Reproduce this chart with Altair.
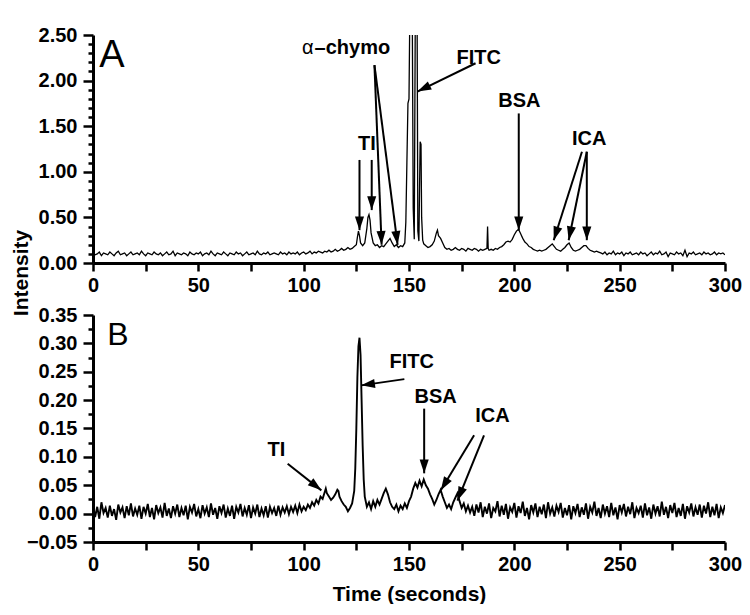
import math
import altair as alt
import pandas as pd

# ---------------- data ----------------
# Panel A trace
top_early_t = list(range(0, 120))
top_early_v = [
    0.11, 0.09, 0.10, 0.12, 0.08, 0.11, 0.10, 0.09, 0.12, 0.10,
    0.08, 0.11, 0.13, 0.09, 0.10, 0.11, 0.08, 0.10, 0.12, 0.09,
    0.10, 0.11, 0.09, 0.13, 0.10, 0.08, 0.11, 0.10, 0.09, 0.12,
    0.10, 0.09, 0.11, 0.08, 0.10, 0.12, 0.09, 0.10, 0.13, 0.08,
    0.11, 0.10, 0.09, 0.11, 0.10, 0.08, 0.12, 0.10, 0.09, 0.11,
    0.10, 0.12, 0.08, 0.10, 0.11, 0.09, 0.13, 0.10, 0.08, 0.11,
    0.10, 0.09, 0.12, 0.10, 0.08, 0.11, 0.10, 0.09, 0.12, 0.10,
    0.11, 0.08, 0.10, 0.12, 0.09, 0.10, 0.11, 0.09, 0.13, 0.10,
    0.09, 0.11, 0.10, 0.12, 0.09, 0.10, 0.11, 0.10, 0.09, 0.12,
    0.10, 0.11, 0.09, 0.12, 0.10, 0.11, 0.10, 0.12, 0.09, 0.11,
    0.12, 0.10, 0.11, 0.13, 0.10, 0.12, 0.11, 0.13, 0.12, 0.11,
    0.13, 0.12, 0.14, 0.12, 0.13, 0.15, 0.13, 0.14, 0.16, 0.14,
]
top_mid_t = [
    120, 121, 122, 123, 124, 125, 125.5, 126, 126.5, 127,
    128, 129, 130, 130.5, 131, 131.5, 132, 133, 134, 135,
    136, 137, 138, 139, 140, 141, 142, 143, 144, 145,
    146, 147, 148, 148.5, 149, 149.5, 150, 150.5, 151, 151.5,
    152, 152.5, 153, 153.3, 153.8, 154.2, 154.7, 155, 155.3, 155.7,
    156, 156.5, 157, 158, 159, 160, 161, 162, 163, 163.5,
    164, 165, 166, 167, 168, 169, 170, 171, 172, 173,
    174, 175, 176, 177, 178, 179, 180, 181, 182, 183,
    184, 185, 186, 187, 187.3, 187.6, 188, 189, 190, 191,
    192, 193, 194, 195, 196, 197, 198, 199, 200, 201,
    202, 203, 204, 205, 206, 207, 208, 209, 210, 211,
    212, 213, 214, 215, 216, 217, 218, 219, 220, 221,
    222, 223, 224, 225, 226, 227, 228, 229, 230, 231,
    232, 233, 234, 235, 236, 237, 238, 239, 240,
]
top_mid_v = [
    0.15, 0.17, 0.15, 0.16, 0.18, 0.20, 0.28, 0.35, 0.30, 0.22,
    0.19, 0.22, 0.38, 0.50, 0.53, 0.47, 0.33, 0.22, 0.19, 0.20,
    0.17, 0.19, 0.18, 0.21, 0.24, 0.27, 0.22, 0.18, 0.20, 0.17,
    0.19, 0.18, 0.22, 0.45, 1.10, 1.75, 1.80, 3.00, 3.50, 3.00,
    0.60, 0.26, 2.80, 3.50, 3.00, 0.35, 0.24, 0.80, 1.33, 1.30,
    0.50, 0.25, 0.21, 0.19, 0.17, 0.18, 0.20, 0.24, 0.33, 0.36,
    0.30, 0.27, 0.22, 0.17, 0.15, 0.16, 0.14, 0.15, 0.17, 0.15,
    0.14, 0.16, 0.15, 0.13, 0.16, 0.15, 0.14, 0.16, 0.15, 0.13,
    0.15, 0.14, 0.15, 0.16, 0.40, 0.16, 0.14, 0.15, 0.14, 0.16,
    0.15, 0.17, 0.18, 0.20, 0.23, 0.24, 0.23, 0.26, 0.31, 0.35,
    0.37, 0.32, 0.27, 0.23, 0.21, 0.18, 0.17, 0.15, 0.14, 0.13,
    0.14, 0.13, 0.14, 0.15, 0.17, 0.19, 0.21, 0.18, 0.15, 0.14,
    0.13, 0.15, 0.17, 0.20, 0.22, 0.17, 0.14, 0.13, 0.14, 0.15,
    0.17, 0.19, 0.19, 0.16, 0.14, 0.13, 0.12, 0.13, 0.12,
]
top_late_t = list(range(241, 301))
top_late_v = [
    0.11, 0.10, 0.12, 0.09, 0.11, 0.10, 0.13, 0.09, 0.11, 0.10,
    0.12, 0.08, 0.11, 0.10, 0.12, 0.09, 0.10, 0.11, 0.09, 0.12,
    0.10, 0.11, 0.08, 0.10, 0.12, 0.09, 0.11, 0.10, 0.13, 0.09,
    0.10, 0.12, 0.07, 0.11, 0.10, 0.09, 0.12, 0.10, 0.11, 0.08,
    0.14, 0.07, 0.11, 0.10, 0.12, 0.09, 0.10, 0.11, 0.09, 0.12,
    0.10, 0.11, 0.09, 0.10, 0.12, 0.09, 0.11, 0.10, 0.11, 0.09,
]

# Panel B trace
bot_early_t = list(range(0, 100))
bot_early_v = [
    0.015, -0.006, 0.012, -0.009, 0.020, 0.001, 0.010, -0.007, 0.014, -0.004,
    0.008, -0.011, 0.016, 0.002, 0.011, -0.008, 0.013, -0.003, 0.018, -0.005,
    0.009, -0.002, 0.014, -0.009, 0.012, 0.000, 0.017, -0.006, 0.010, -0.010,
    0.015, 0.001, 0.011, -0.007, 0.019, -0.004, 0.009, -0.008, 0.013, 0.000,
    0.016, -0.006, 0.010, -0.003, 0.014, -0.010, 0.012, 0.002, 0.017, -0.005,
    0.008, -0.008, 0.015, 0.000, 0.011, -0.006, 0.018, -0.002, 0.010, -0.009,
    0.013, 0.001, 0.016, -0.007, 0.009, -0.004, 0.014, -0.009, 0.012, 0.002,
    0.017, -0.005, 0.010, -0.002, 0.015, -0.008, 0.011, 0.000, 0.016, -0.006,
    0.009, -0.003, 0.013, -0.007, 0.012, 0.001, 0.010, -0.004, 0.014, -0.002,
    0.011, 0.002, 0.013, -0.001, 0.012, 0.003, 0.014, 0.001, 0.016, 0.004,
]
bot_mid_t = [
    100, 101, 102, 103, 104, 105, 106, 107, 108, 109,
    110, 110.5, 111, 112, 113, 114, 115, 116, 116.5, 117,
    118, 119, 120, 121, 122, 123, 124, 124.5, 125, 125.5,
    126, 126.5, 127, 127.5, 128, 128.5, 129, 130, 131, 132,
    133, 134, 135, 136, 137, 138, 139, 140, 141, 142,
    143, 144, 145, 146, 147, 148, 149, 150, 151, 152,
    153, 154, 155, 156, 157, 158, 159, 160, 161, 162,
    163, 164, 165, 166, 167, 168, 169, 170, 171, 172,
    173, 174, 175, 176, 177, 178, 179, 180,
]
bot_mid_v = [
    0.012, 0.006, 0.016, 0.010, 0.020, 0.014, 0.024, 0.018, 0.030, 0.026,
    0.038, 0.044, 0.036, 0.030, 0.024, 0.028, 0.034, 0.042, 0.040, 0.030,
    0.022, 0.016, 0.012, 0.004, 0.010, 0.018, 0.040, 0.080, 0.150, 0.240,
    0.295, 0.310, 0.280, 0.200, 0.120, 0.060, 0.030, 0.012, 0.020, 0.008,
    0.022, 0.012, 0.024, 0.016, 0.026, 0.036, 0.044, 0.034, 0.020, 0.012,
    0.008, 0.016, 0.004, 0.014, 0.008, 0.018, 0.010, 0.022, 0.030, 0.044,
    0.054, 0.046, 0.058, 0.048, 0.060, 0.050, 0.044, 0.034, 0.026, 0.016,
    0.024, 0.034, 0.042, 0.030, 0.020, 0.010, 0.016, 0.008, 0.020, 0.028,
    0.036, 0.022, 0.010, 0.018, 0.004, 0.014, 0.002, 0.012,
]
bot_late_t = list(range(181, 301))
bot_late_v = [
    -0.004, 0.016, 0.002, 0.020, -0.006, 0.012, 0.000, 0.018, -0.008, 0.010,
    0.004, 0.022, -0.005, 0.014, -0.002, 0.017, -0.009, 0.011, 0.003, 0.019,
    -0.007, 0.013, 0.001, 0.021, -0.004, 0.010, -0.010, 0.015, 0.002, 0.018,
    -0.006, 0.012, -0.001, 0.016, -0.008, 0.020, 0.000, 0.011, -0.005, 0.014,
    0.003, 0.019, -0.007, 0.010, -0.003, 0.015, -0.010, 0.013, 0.001, 0.017,
    -0.006, 0.011, -0.002, 0.018, -0.009, 0.012, 0.002, 0.021, -0.004, 0.010,
    -0.008, 0.016, 0.000, 0.013, -0.006, 0.019, -0.003, 0.011, -0.010, 0.015,
    0.002, 0.017, -0.005, 0.012, -0.001, 0.020, -0.008, 0.010, 0.001, 0.014,
    -0.007, 0.018, -0.003, 0.011, -0.009, 0.016, 0.000, 0.013, -0.005, 0.021,
    -0.002, 0.012, -0.008, 0.015, 0.001, 0.019, -0.006, 0.010, -0.004, 0.017,
    -0.009, 0.013, 0.002, 0.018, -0.005, 0.011, -0.002, 0.016, -0.007, 0.014,
    0.000, 0.020, -0.006, 0.012, -0.003, 0.017, -0.008, 0.011, 0.001, 0.015,
]

# Axis ticks
x_ticks = [0, 25, 50, 75, 100, 125, 150, 175, 200, 225, 250, 275, 300]
top_y_ticks = [0.0, 0.1, 0.2, 0.3, 0.4, 0.5, 0.6, 0.7, 0.8, 0.9, 1.0, 1.1, 1.2,
               1.3, 1.4, 1.5, 1.6, 1.7, 1.8, 1.9, 2.0, 2.1, 2.2, 2.3, 2.4, 2.5]
bot_y_ticks = [-0.05, -0.025, 0.0, 0.025, 0.05, 0.075, 0.1, 0.125, 0.15,
               0.175, 0.2, 0.225, 0.25, 0.275, 0.3, 0.325, 0.35]

# Annotations, panel A
top_label_text = ["TI", "FITC", "BSA", "ICA"]
top_label_x = [130.0, 183.1, 202.4, 235.5]
top_label_y = [1.30, 2.25, 1.78, 1.36]
top_alpha_x, top_alpha_y = 101.9, 2.36
top_chymo_x, top_chymo_y = 105.2, 2.36
top_arrow_x0 = [126.5, 132.3, 133.6, 133.6, 181.6, 202.1, 232.1, 234.4, 234.4]
top_arrow_y0 = [1.13, 1.13, 2.17, 2.17, 2.19, 1.64, 1.22, 1.22, 1.22]
top_arrow_x1 = [126.5, 132.3, 137.0, 144.6, 154.0, 202.1, 218.7, 225.8, 234.4]
top_arrow_y1 = [0.36, 0.58, 0.20, 0.20, 1.88, 0.36, 0.25, 0.25, 0.25]

# Annotations, panel B
bot_label_text = ["TI", "FITC", "BSA", "ICA"]
bot_label_x = [87.1, 151.3, 162.6, 189.6]
bot_label_y = [0.112, 0.267, 0.206, 0.172]
bot_arrow_x0 = [92.4, 147.8, 157.2, 180.9, 185.6]
bot_arrow_y0 = [0.088, 0.237, 0.185, 0.138, 0.138]
bot_arrow_x1 = [108.4, 127.3, 157.2, 165.1, 173.0]
bot_arrow_y1 = [0.041, 0.226, 0.071, 0.041, 0.023]

# ---------------- layout / style ----------------
W = 632
H_TOP = 228
H_BOT = 227
FONT = "Liberation Sans"
HEAD = "M0,0L-0.33,-1L0.33,-1Z"   # arrow head, tip at origin, pointing down


def arrow_angles(x0, y0, x1, y1, y_span, h):
    out = []
    for a, b, c, d in zip(x0, y0, x1, y1):
        dx = (c - a) * W / 300.0
        dy = -(d - b) * h / y_span
        out.append(math.degrees(math.atan2(-dx, dy)) % 360)
    return out


def build_panel(t, v, ydom, yticks, ystep_mult, h, lab_text, lab_x, lab_y,
                ax0, ay0, ax1, ay1, letter, letter_x, letter_y, letter_size,
                x_title, line_w, extra=None):
    xs = alt.Scale(domain=[0, 300], nice=False, zero=False)
    ys = alt.Scale(domain=ydom, nice=False, zero=False)
    major = f"abs(datum.value*{ystep_mult} - round(datum.value*{ystep_mult})) < 1e-6"
    x_axis = alt.Axis(
        values=x_ticks, title=x_title, labelFlush=False,
        labelExpr="datum.value % 50 === 0 ? datum.label : ''",
        tickSize=8, labelPadding=4, titlePadding=9,
    )
    y_axis = alt.Axis(
        values=yticks, title=None, format=".2f",
        labelExpr=f"{major} ? datum.label : ''",
        tickSize={"condition": {"test": major, "value": 10}, "value": 5},
        labelPadding=6,
    )

    def X(f):
        return alt.X(f, scale=xs, axis=x_axis, title=x_title)

    def Y(f):
        return alt.Y(f, scale=ys, axis=y_axis, title=None)

    trace_df = pd.DataFrame({"t": t, "v": v})
    trace = alt.Chart(trace_df).mark_line(color="black", strokeWidth=line_w, clip=True).encode(
        x=X("t:Q"), y=Y("v:Q"),
    )
    arr_df = pd.DataFrame({"x0": ax0, "y0": ay0, "x1": ax1, "y1": ay1,
                           "ang": arrow_angles(ax0, ay0, ax1, ay1, ydom[1] - ydom[0], h)})
    shafts = alt.Chart(arr_df).mark_rule(color="black", strokeWidth=2).encode(
        x=X("x0:Q"), y=Y("y0:Q"), x2="x1:Q", y2="y1:Q",
    )
    heads = alt.Chart(arr_df).mark_point(shape=HEAD, filled=True, color="black",
                                         opacity=1, size=760, strokeWidth=0).encode(
        x=X("x1:Q"), y=Y("y1:Q"), angle=alt.Angle("ang:Q", scale=None),
    )
    lab_df = pd.DataFrame({"x": lab_x, "y": lab_y, "label": lab_text})
    labels = alt.Chart(lab_df).mark_text(font=FONT, fontWeight="bold", fontSize=20,
                                         color="black", align="center", baseline="middle").encode(
        x=X("x:Q"), y=Y("y:Q"), text="label:N",
    )
    let_df = pd.DataFrame({"x": [letter_x], "y": [letter_y], "label": [letter]})
    letter_mark = alt.Chart(let_df).mark_text(font=FONT, fontSize=letter_size, color="black",
                                              align="center", baseline="middle").encode(
        x=X("x:Q"), y=Y("y:Q"), text="label:N",
    )
    layers = [trace, shafts, heads, labels, letter_mark]
    if extra:
        for e in extra:
            layers.append(e(X, Y))
    return alt.layer(*layers).properties(width=W, height=h)


def alpha_layer(X, Y):
    df = pd.DataFrame({"x": [top_alpha_x], "y": [top_alpha_y], "label": ["α"]})
    return alt.Chart(df).mark_text(font=FONT, fontSize=20, color="black",
                                   align="center", baseline="middle").encode(
        x=X("x:Q"), y=Y("y:Q"), text="label:N")


def chymo_layer(X, Y):
    df = pd.DataFrame({"x": [top_chymo_x], "y": [top_chymo_y], "label": ["–chymo"]})
    return alt.Chart(df).mark_text(font=FONT, fontSize=20, fontWeight="bold", color="black",
                                   align="left", baseline="middle").encode(
        x=X("x:Q"), y=Y("y:Q"), text="label:N")


def intensity_layer(X, Y):
    df = pd.DataFrame({"label": ["Intensity"]})
    return alt.Chart(df).mark_text(font=FONT, fontSize=21, fontWeight="bold", color="black",
                                   angle=270, align="center", baseline="middle").encode(
        x=alt.value(-71), y=alt.value(238), text="label:N")


top = build_panel(top_early_t + top_mid_t + top_late_t,
                  top_early_v + top_mid_v + top_late_v,
                  [0, 2.5], top_y_ticks, 2, H_TOP,
                  top_label_text, top_label_x, top_label_y,
                  top_arrow_x0, top_arrow_y0, top_arrow_x1, top_arrow_y1,
                  "A", 9.0, 2.275, 38, None, 1.3,
                  extra=[alpha_layer, chymo_layer, intensity_layer])

bot = build_panel(bot_early_t + bot_mid_t + bot_late_t,
                  bot_early_v + bot_mid_v + bot_late_v,
                  [-0.05, 0.35], bot_y_ticks, 20, H_BOT,
                  bot_label_text, bot_label_x, bot_label_y,
                  bot_arrow_x0, bot_arrow_y0, bot_arrow_x1, bot_arrow_y1,
                  "B", 11.8, 0.315, 32, "Time (seconds)", 1.9)

chart = alt.vconcat(top, bot, spacing=52, bounds="flush").properties(
    padding={"left": 3, "top": 17, "right": 0, "bottom": 0}
).configure_view(stroke=None).configure_axis(
    domainColor="black", domainWidth=3, tickColor="black", tickWidth=2.5,
    labelColor="black", labelFont=FONT, labelFontWeight="bold", labelFontSize=20,
    titleColor="black", titleFont=FONT, titleFontWeight="bold", titleFontSize=21,
    grid=False,
)

chart.save("out.html", embed_options={"renderer": "svg", "actions": False})
